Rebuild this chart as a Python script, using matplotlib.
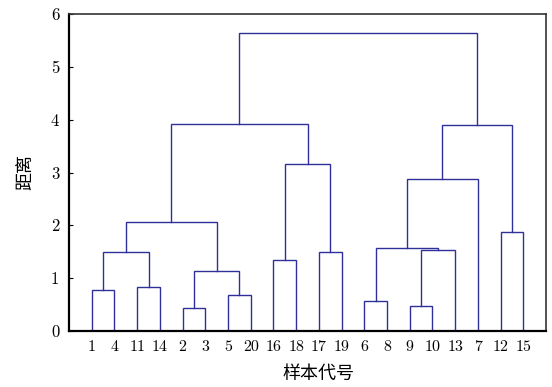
import matplotlib as mpl

mpl.use("Agg")
import matplotlib.pyplot as plt

# samples are numbered 1..20; merged clusters get ids 21, 22, ... in merge order
SAMPLES = list(range(1, 21))
MERGE_LEFT = [2, 9, 6, 5, 1, 11, 21, 16, 25, 17, 22, 23, 12, 29, 32, 28, 35, 34, 38]
MERGE_RIGHT = [3, 10, 8, 20, 4, 14, 24, 18, 26, 19, 13, 31, 15, 27, 7, 30, 33, 36, 37]
MERGE_HEIGHT = [0.44, 0.47, 0.56, 0.68, 0.78, 0.83, 1.14, 1.35, 1.49, 1.49,
                1.53, 1.58, 1.87, 2.07, 2.88, 3.16, 3.90, 3.91, 5.64]

LINE = "#30309a"
CJK = "Noto Sans CJK SC"
NUM = "cmr10"

mpl.rcParams.update({"axes.unicode_minus": False, "mathtext.fontset": "cm"})

n = len(SAMPLES)
children = {n + 1 + k: (a, b, h) for k, (a, b, h) in
            enumerate(zip(MERGE_LEFT, MERGE_RIGHT, MERGE_HEIGHT))}
root = n + len(MERGE_HEIGHT)

# leaf order from a left-to-right walk of the tree
order = []


def walk(node):
    if node <= n:
        order.append(node)
        return
    a, b, _ = children[node]
    walk(a)
    walk(b)


walk(root)
xpos = {s: i + 1 for i, s in enumerate(order)}


def place(node):
    """Return (x, height) of a node, drawing its link on the way."""
    if node <= n:
        return xpos[node], 0.0
    a, b, h = children[node]
    xa, ha = place(a)
    xb, hb = place(b)
    ax.plot([xa, xa, xb, xb], [ha, h, h, hb], color=LINE, lw=1.0,
            solid_joinstyle="miter")
    return (xa + xb) / 2, h


fig = plt.figure(figsize=(5.52, 3.87), dpi=100)
ax = fig.add_axes([69 / 552, 56 / 387, 477 / 552, 317 / 387])
place(root)

ax.set_xlim(0, 21)
ax.set_ylim(0, 6)
ax.set_xticks(range(1, n + 1))
ax.set_xticklabels([str(s) for s in order], family=NUM, fontsize=11.5)
ax.tick_params(axis="x", length=0, pad=7)
ax.set_yticks(range(0, 7))
ax.set_yticklabels([str(v) for v in range(0, 7)], family=NUM, fontsize=12)
ax.tick_params(axis="y", direction="in", length=3, width=0.8, pad=7)
for side in ["left", "bottom"]:
    ax.spines[side].set_linewidth(1.6)
for side in ["top", "right"]:
    ax.spines[side].set_linewidth(1.2)
    ax.spines[side].set_color("#333333")

ax.set_xlabel("样本代号", family=CJK, fontsize=13, va="center")
ax.xaxis.set_label_coords(0.522, -0.137)
ax.set_ylabel("距离", family=CJK, fontsize=13, labelpad=12)

fig.savefig("out.png", dpi=100)
